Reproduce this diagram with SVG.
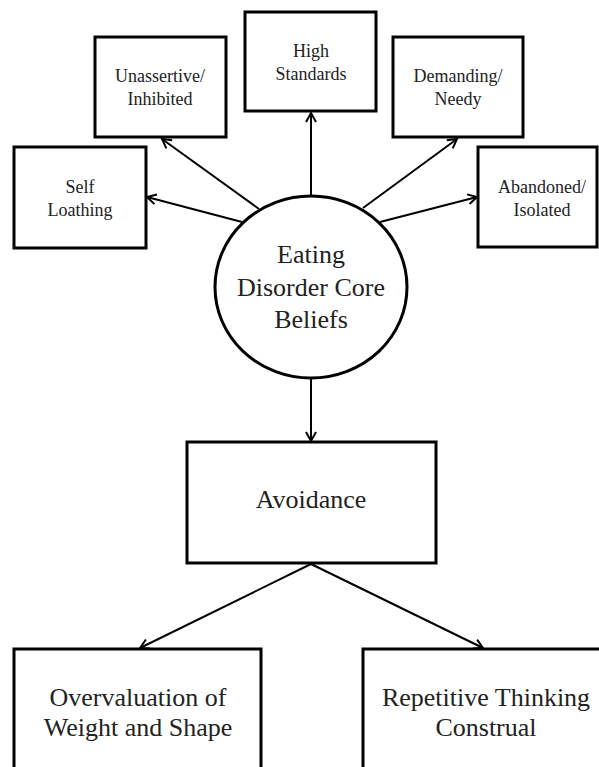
<svg xmlns="http://www.w3.org/2000/svg" width="599" height="767" viewBox="0 0 599 767">
<style>
.box{fill:#fff;stroke:#000;stroke-width:3}
.c{fill:none;stroke:#000;stroke-width:2}
text{font-family:'Liberation Serif','Times New Roman','DejaVu Serif',serif;fill:#222;text-anchor:middle}
.s{font-size:18px}
.l{font-size:26px}
</style>
<defs>
<marker id="ah" markerUnits="userSpaceOnUse" markerWidth="14" markerHeight="14" refX="10" refY="6" orient="auto" viewBox="0 0 14 12">
<path d="M1,1 L10,6 L1,11" fill="none" stroke="#000" stroke-width="2"/>
</marker>
</defs>
<rect width="599" height="767" fill="#fff"/>
<g id="connectors">
<line class="c" x1="311" y1="196" x2="311" y2="113" marker-end="url(#ah)"/>
<line class="c" x1="259" y1="209" x2="162" y2="139" marker-end="url(#ah)"/>
<line class="c" x1="242" y1="222" x2="147" y2="197" marker-end="url(#ah)"/>
<line class="c" x1="363" y1="208" x2="457" y2="139" marker-end="url(#ah)"/>
<line class="c" x1="380" y1="222" x2="477" y2="197" marker-end="url(#ah)"/>
<line class="c" x1="311" y1="378" x2="311" y2="441" marker-end="url(#ah)"/>
<line class="c" x1="311" y1="564" x2="140" y2="648" marker-end="url(#ah)"/>
<line class="c" x1="311" y1="564" x2="483" y2="648" marker-end="url(#ah)"/>
</g>
<g id="self-loathing">
<rect class="box" x="14" y="147" width="132" height="101"/>
<text class="s" x="80" y="193" font-family="Liberation Serif, serif">Self</text>
<text class="s" x="80" y="216" font-family="Liberation Serif, serif">Loathing</text>
</g>
<g id="unassertive">
<rect class="box" x="95" y="37" width="131" height="100"/>
<text class="s" x="160" y="82">Unassertive/</text>
<text class="s" x="160" y="105">Inhibited</text>
</g>
<g id="high-standards">
<rect class="box" x="245" y="12" width="131" height="99"/>
<text class="s" x="311" y="57">High</text>
<text class="s" x="311" y="80">Standards</text>
</g>
<g id="demanding">
<rect class="box" x="393" y="37" width="130" height="100"/>
<text class="s" x="458" y="82">Demanding/</text>
<text class="s" x="458" y="105">Needy</text>
</g>
<g id="abandoned">
<rect class="box" x="478" y="147" width="119" height="100"/>
<text class="s" x="542" y="193">Abandoned/</text>
<text class="s" x="542" y="216">Isolated</text>
</g>
<g id="core-beliefs">
<ellipse class="box" cx="311" cy="287" rx="96" ry="91"/>
<text class="l" x="311" y="263">Eating</text>
<text class="l" x="311" y="296">Disorder Core</text>
<text class="l" x="311" y="328">Beliefs</text>
</g>
<g id="avoidance">
<rect class="box" x="187" y="442" width="249" height="121"/>
<text class="l" x="311" y="508">Avoidance</text>
</g>
<g id="overvaluation">
<rect class="box" x="14" y="649" width="247" height="140"/>
<text class="l" x="138" y="706">Overvaluation of</text>
<text class="l" x="138" y="736">Weight and Shape</text>
</g>
<g id="repetitive">
<rect class="box" x="363" y="649" width="247" height="140"/>
<text class="l" x="486" y="706">Repetitive Thinking</text>
<text class="l" x="486" y="736">Construal</text>
</g>
</svg>
